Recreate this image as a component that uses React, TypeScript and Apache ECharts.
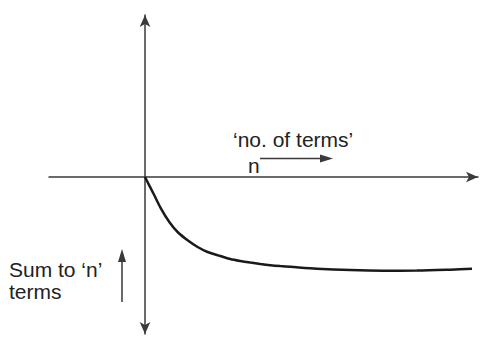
import React, { useEffect, useRef } from "react";
import * as echarts from "echarts";

// Curve: number of terms (x) vs. sum to n terms (y), arbitrary units
const nValues = [0, 9.3, 16, 24.3, 32.6, 42.6, 52.6, 62.6, 75.3, 85.3, 95.3, 105.3, 115.3, 125.3, 135.3, 145.3, 172, 205.3, 238.3, 272, 305.3, 327];
const sumValues = [0, -18.3, -31.6, -45, -55, -63.3, -70, -75, -79, -82, -84, -85.6, -87, -88.2, -89.1, -89.8, -91.7, -93.1, -93.7, -93.6, -92.7, -91.8];

const xRange = [-96, 333];
const yRange = [-157, 162];

const labelTop = "\u2018no. of terms\u2019";
const labelN = "n";
const labelSum1 = "Sum to \u2018n\u2019";
const labelSum2 = "terms";

export default function App() {
  const ref = useRef<HTMLDivElement>(null);
  useEffect(() => {
    if (!ref.current) return;
    const chart = echarts.init(ref.current, undefined, { renderer: "svg" });
    const axisColor = "#3a3a3a";
    const font = "Liberation Sans, Arial, sans-serif";
    const textStyle = (t: string, x: number, y: number) => ({
      type: "text",
      x,
      y,
      style: {
        text: t,
        fill: "#222",
        font: `21px ${font}`,
        textAlign: "left",
        textVerticalAlign: "middle",
      },
    });
    chart.setOption({
      animation: false,
      grid: { left: 49, right: 6, top: 15, bottom: 7, containLabel: false },
      xAxis: {
        type: "value",
        min: xRange[0],
        max: xRange[1],
        axisLine: {
          show: true,
          onZero: true,
          symbol: ["none", "arrow"],
          symbolSize: [8, 12],
          lineStyle: { color: axisColor, width: 1.5 },
        },
        axisTick: { show: false },
        axisLabel: { show: false },
        splitLine: { show: false },
      },
      yAxis: {
        type: "value",
        min: yRange[0],
        max: yRange[1],
        axisLine: {
          show: true,
          onZero: true,
          symbol: ["arrow", "arrow"],
          symbolSize: [8, 12],
          lineStyle: { color: axisColor, width: 1.5 },
        },
        axisTick: { show: false },
        axisLabel: { show: false },
        splitLine: { show: false },
      },
      series: [
        {
          type: "line",
          data: nValues.map((x, i) => [x, sumValues[i]]),
          smooth: 0.3,
          showSymbol: false,
          lineStyle: { color: "#1a1a1a", width: 2.5 },
        },
      ],
      graphic: [
        textStyle(labelTop, 233, 139),
        textStyle(labelN, 248, 165),
        textStyle(labelSum1, 9, 269),
        textStyle(labelSum2, 9, 291),
        {
          type: "line",
          shape: { x1: 260, y1: 158.5, x2: 322, y2: 158.5 },
          style: { stroke: axisColor, lineWidth: 1.5 },
        },
        {
          type: "polygon",
          shape: { points: [[333, 158.5], [320, 154.5], [320, 162.5]] },
          style: { fill: axisColor },
        },
        {
          type: "line",
          shape: { x1: 122, y1: 302, x2: 122, y2: 260 },
          style: { stroke: axisColor, lineWidth: 1.5 },
        },
        {
          type: "polygon",
          shape: { points: [[122, 249], [118, 262], [126, 262]] },
          style: { fill: axisColor },
        },
      ],
    });
    return () => chart.dispose();
  }, []);
  return <div ref={ref} style={{ width: 484, height: 341, position: "absolute", left: 0, top: 0 }} />;
}
